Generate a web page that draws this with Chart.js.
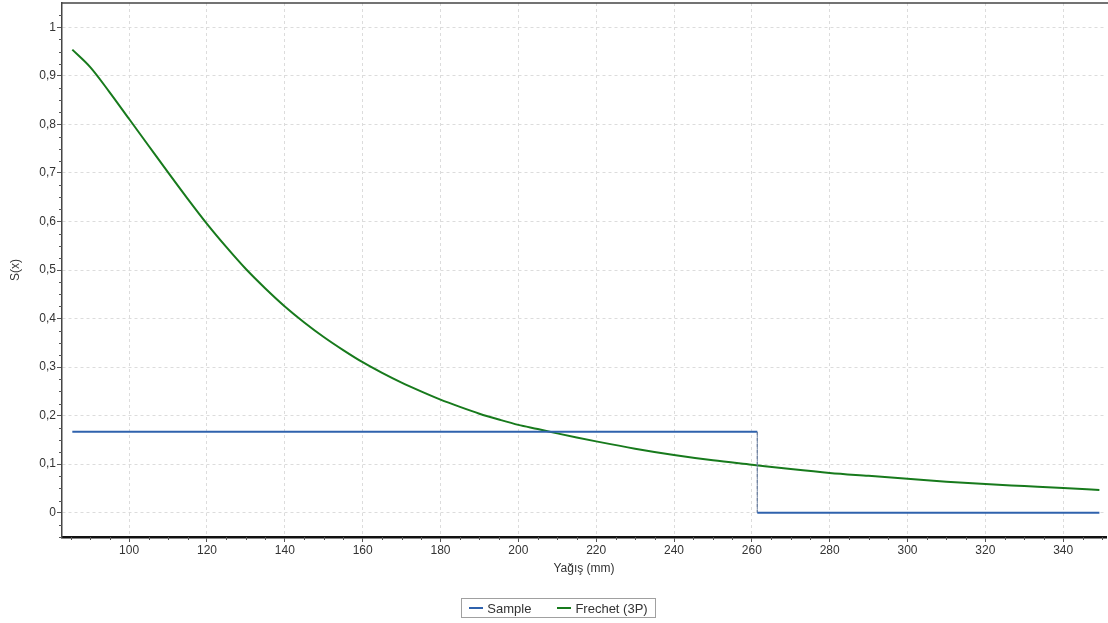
<!DOCTYPE html>
<html>
<head>
<meta charset="utf-8">
<script src="https://cdn.jsdelivr.net/npm/chart.js@4/dist/chart.umd.min.js"></script>
<style>
  html, body { margin: 0; padding: 0; background: #fff; }
  #wrap { width: 1108px; height: 623px; position: relative; }
  #legend {
    position: absolute; left: 461px; top: 598px; width: 193px; height: 18px;
    border: 1px solid #a0a0a0; display: flex; justify-content: center; align-items: center;
    font: 13px "Liberation Sans", Arial, sans-serif; color: #333; gap: 26px;
  }
  #legend .item { display: flex; align-items: center; gap: 4px; }
  #legend .swatch { width: 14px; height: 2px; display: inline-block; }
</style>
</head>
<body>
<div id="wrap"><canvas id="survChart"></canvas><div id="legend"></div></div>
<script>
// Data
const sampleX = [85.4, 261.4, 261.4, 349.3];
const sampleY = [0.1667, 0.1667, 0, 0];

const frechetX = [85.4, 90, 95, 100, 105, 110, 115, 120, 125, 130, 135, 140, 145, 150, 155, 160, 165, 170, 175, 180, 185, 190, 195, 200, 205, 210, 215, 220, 230, 240, 250, 260, 270, 280, 290, 300, 310, 320, 330, 340, 349.3];
const frechetY = [0.954, 0.918, 0.866, 0.811, 0.756, 0.701, 0.647, 0.595, 0.547, 0.502, 0.462, 0.425, 0.392, 0.362, 0.335, 0.310, 0.288, 0.268, 0.250, 0.233, 0.218, 0.204, 0.192, 0.181, 0.1725, 0.1635, 0.155, 0.147, 0.132, 0.119, 0.108, 0.099, 0.090, 0.082, 0.076, 0.070, 0.064, 0.059, 0.055, 0.051, 0.047];

const xTicks = [100, 120, 140, 160, 180, 200, 220, 240, 260, 280, 300, 320, 340];
const yTicks = [0, 0.1, 0.2, 0.3, 0.4, 0.5, 0.6, 0.7, 0.8, 0.9, 1];

const toPoints = (xs, ys) => xs.map((x, i) => ({ x: x, y: ys[i] }));
const fmt = v => Number(v.toFixed(2)).toString().replace('.', ',');

Chart.defaults.font.family = '"Liberation Sans", Arial, sans-serif';
Chart.defaults.font.size = 12;
Chart.defaults.color = '#333';

// minor ticks and top border line
const extras = {
    id: 'extras',
    afterDraw(chart) {
        const c = chart.ctx;
        const a = chart.chartArea;
        const xs = chart.scales.x, ys = chart.scales.y;
        c.save();
        c.strokeStyle = '#555';
        c.lineWidth = 1;
        c.beginPath();
        for (let v = -0.05; v <= 1.05; v += 0.025) {
            const r = Math.round(v * 1000) / 1000;
            if (Math.abs(r * 10 - Math.round(r * 10)) < 1e-6) continue;
            const py = Math.round(ys.getPixelForValue(r)) + 0.5;
            c.moveTo(a.left - 3, py);
            c.lineTo(a.left, py);
        }
        for (let v = 85; v <= 350; v += 5) {
            if (v % 20 === 0) continue;
            const px = Math.round(xs.getPixelForValue(v)) + 0.5;
            c.moveTo(px, a.bottom);
            c.lineTo(px, a.bottom + 3);
        }
        c.stroke();

        c.strokeStyle = '#444';
        c.lineWidth = 1.5;
        c.beginPath();
        c.moveTo(a.left, a.top);
        c.lineTo(chart.width, a.top);
        c.stroke();
        c.restore();
    }
};

const ctx = document.getElementById('survChart').getContext('2d');
const survChart = new Chart(ctx, {
    type: 'line',
    data: {
        datasets: [{
            label: 'Sample',
            data: toPoints(sampleX, sampleY),
            borderColor: '#2f62ad',
            borderWidth: 2,
            pointRadius: 0,
            fill: false,
            segment: {
                borderDash: s => s.p0.parsed.x === s.p1.parsed.x ? [3, 3] : undefined,
                borderColor: s => s.p0.parsed.x === s.p1.parsed.x ? '#6a7f9e' : undefined,
                borderWidth: s => s.p0.parsed.x === s.p1.parsed.x ? 1 : undefined
            }
        }, {
            label: 'Frechet (3P)',
            data: toPoints(frechetX, frechetY),
            borderColor: '#177a1c',
            borderWidth: 2,
            pointRadius: 0,
            fill: false,
            cubicInterpolationMode: 'monotone'
        }]
    },
    options: {
        responsive: true,
        maintainAspectRatio: false,
        animation: false,
        layout: { padding: { top: 3, right: 2, bottom: 42 } },
        scales: {
            x: {
                type: 'linear',
                min: 82.75,
                max: 351,
                afterBuildTicks: s => { s.ticks = xTicks.map(v => ({ value: v })); },
                afterFit: s => { s.height = 44; s.paddingLeft = 0; s.paddingRight = 0; },
                ticks: { padding: 1, maxRotation: 0, color: '#333' },
                grid: { color: '#dcdcdc', tickColor: '#555', tickLength: 5 },
                border: { display: true, color: '#111', width: 2.5, dash: [3, 3] },
                title: { display: true, text: 'Yağış (mm)', color: '#333', padding: { top: 4, bottom: 5 } }
            },
            y: {
                min: -0.05,
                max: 1.05,
                afterBuildTicks: s => { s.ticks = yTicks.map(v => ({ value: v })); },
                afterFit: s => { s.width = 62; s.paddingTop = 0; s.paddingBottom = 0; },
                ticks: { padding: 1, callback: v => fmt(v), color: '#333' },
                grid: { color: '#dcdcdc', tickColor: '#555', tickLength: 5 },
                border: { display: true, color: '#444', width: 1.5, dash: [3, 3] },
                title: { display: true, text: 'S(x)', color: '#333', padding: { top: 8 } }
            }
        },
        plugins: {
            legend: { display: false },
            tooltip: { enabled: false }
        }
    },
    plugins: [extras]
});

// HTML legend
const legendEl = document.getElementById('legend');
survChart.data.datasets.forEach(ds => {
    const item = document.createElement('span');
    item.className = 'item';
    const sw = document.createElement('span');
    sw.className = 'swatch';
    sw.style.background = ds.borderColor;
    item.appendChild(sw);
    item.appendChild(document.createTextNode(ds.label));
    legendEl.appendChild(item);
});
</script>
</body>
</html>
